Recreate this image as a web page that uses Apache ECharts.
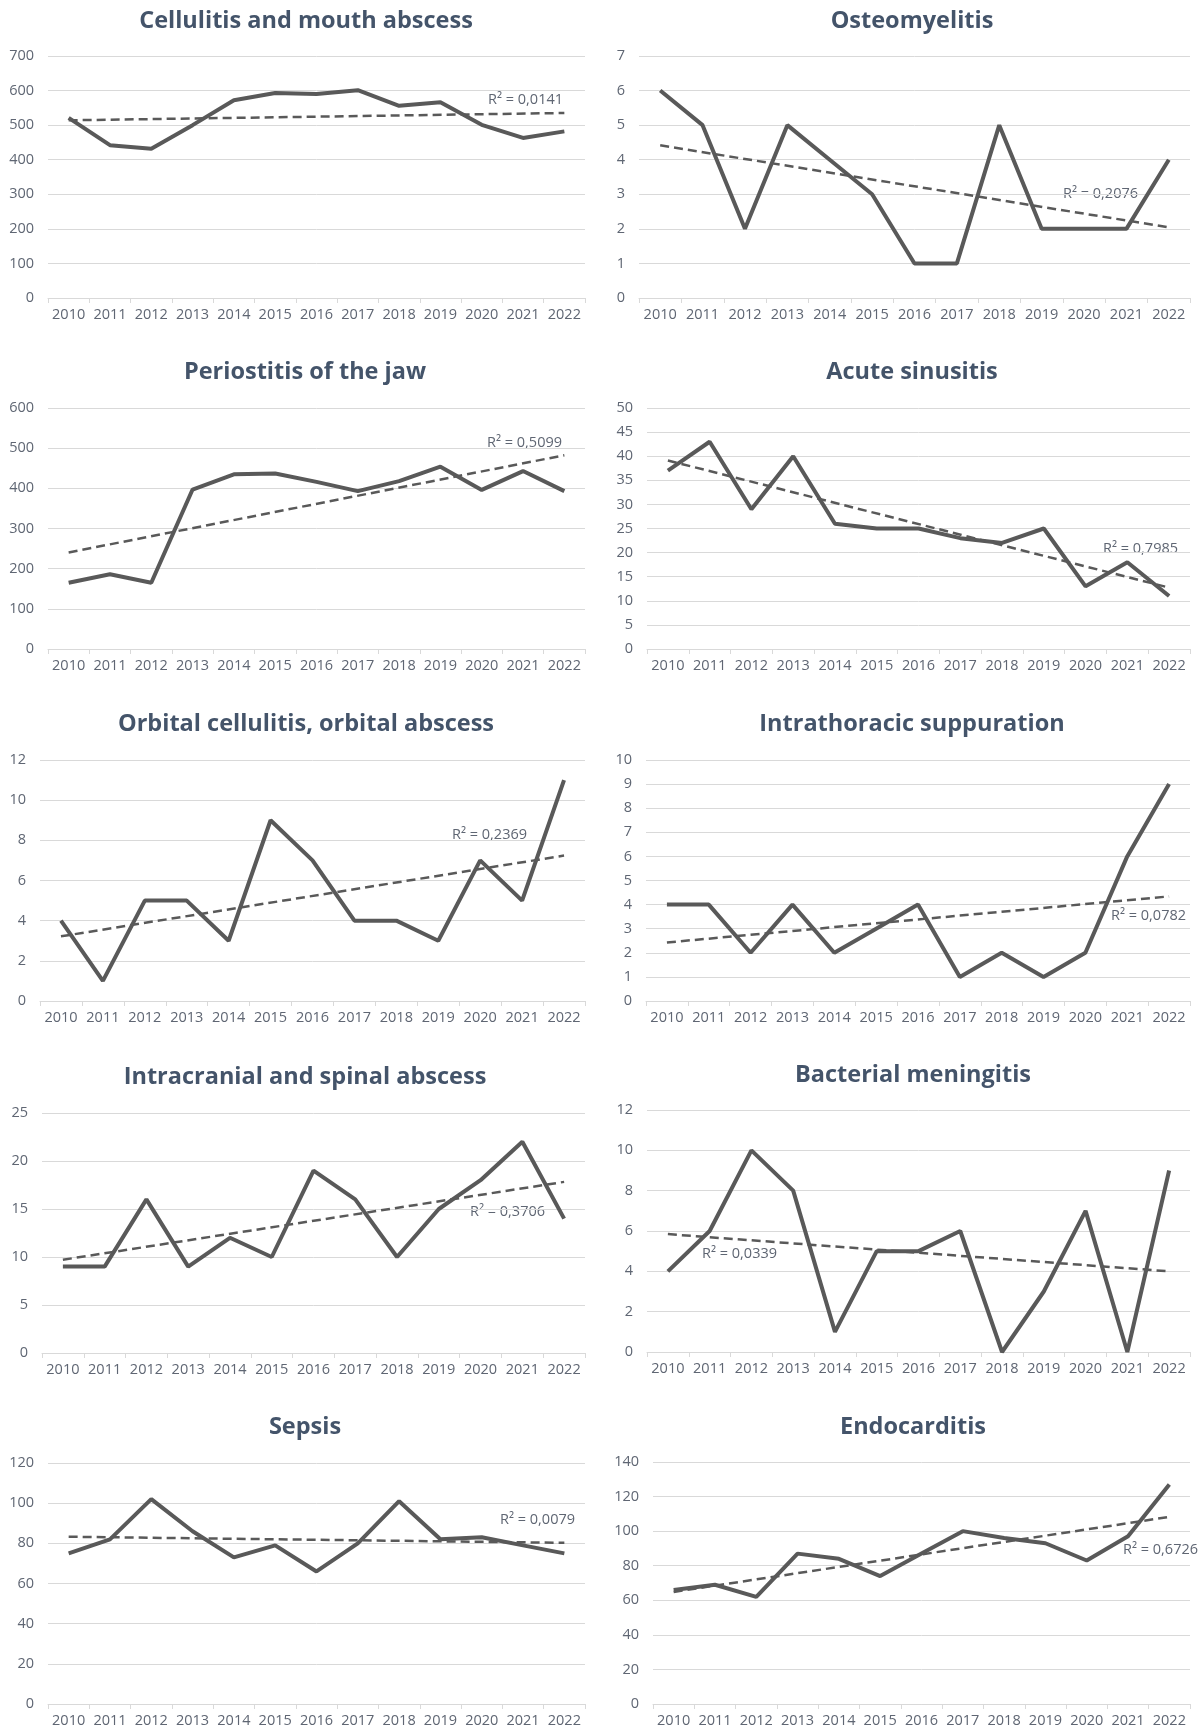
<!DOCTYPE html>
<html>
<head>
<meta charset="utf-8">
<script src="https://cdn.jsdelivr.net/npm/echarts@6/dist/echarts.min.js"></script>
<style>
html,body{margin:0;padding:0;background:#fff;}
#chart{width:1200px;height:1734px;}
</style>
</head>
<body>
<div id="chart"></div>
<script>
// ---------- DATA ----------
var years = ['2010','2011','2012','2013','2014','2015','2016','2017','2018','2019','2020','2021','2022'];

var titles = [
  'Cellulitis and mouth abscess', 'Osteomyelitis',
  'Periostitis of the jaw', 'Acute sinusitis',
  'Orbital cellulitis, orbital abscess', 'Intrathoracic suppuration',
  'Intracranial and spinal abscess', 'Bacterial meningitis',
  'Sepsis', 'Endocarditis'
];

var cellulitis   = [521, 442, 432, 500, 572, 593, 590, 601, 556, 566, 501, 463, 482];
var osteomyelitis= [6, 5, 2, 5, 4, 3, 1, 1, 5, 2, 2, 2, 4];
var periostitis  = [165, 186, 165, 397, 435, 437, 416, 393, 418, 454, 396, 443, 393];
var sinusitis    = [37, 43, 29, 40, 26, 25, 25, 23, 22, 25, 13, 18, 11];
var orbital      = [4, 1, 5, 5, 3, 9, 7, 4, 4, 3, 7, 5, 11];
var intrathoracic= [4, 4, 2, 4, 2, 3, 4, 1, 2, 1, 2, 6, 9];
var intracranial = [9, 9, 16, 9, 12, 10, 19, 16, 10, 15, 18, 22, 14];
var meningitis   = [4, 6, 10, 8, 1, 5, 5, 6, 0, 3, 7, 0, 9];
var sepsis       = [75, 82, 102, 86, 73, 79, 66, 80, 101, 82, 83, 79, 75];
var endocarditis = [66, 69, 62, 87, 84, 74, 87, 100, 96, 93, 83, 97, 127];

var r2Labels = ['R² = 0,0141','R² = 0,2076','R² = 0,5099','R² = 0,7985','R² = 0,2369',
                'R² = 0,0782','R² = 0,3706','R² = 0,0339','R² = 0,0079','R² = 0,6726'];

var yMax      = [700, 7, 600, 50, 12, 10, 25, 12, 120, 140];
var yInterval = [100, 1, 100, 5, 2, 1, 5, 2, 20, 20];

var seriesData = [cellulitis, osteomyelitis, periostitis, sinusitis, orbital,
                  intrathoracic, intracranial, meningitis, sepsis, endocarditis];

// ---------- LAYOUT (pixels) ----------
var grids = [
  {left: 48,  top: 56,   width: 537, height: 242},
  {left: 639, top: 56,   width: 551, height: 242},
  {left: 48,  top: 408,  width: 537, height: 241},
  {left: 647, top: 408,  width: 543, height: 241},
  {left: 40,  top: 760,  width: 545, height: 241},
  {left: 646, top: 760,  width: 544, height: 241},
  {left: 42,  top: 1113, width: 543, height: 240},
  {left: 647, top: 1110, width: 543, height: 242},
  {left: 48,  top: 1463, width: 537, height: 241},
  {left: 653, top: 1462, width: 537, height: 242}
];
var titlePos = [[301,19],[907,19],[300,370],[907,370],[301,722],[907,722],[300,1075],[908,1073],[300,1425],[908,1425]];
var r2Pos = [[525,102],[1100,196],[524,445],[1140,551],[489,837],[1148,918],[507,1214],[739,1256],[537,1522],[1160,1552]];

var FONT = '"Open Sans", "Noto Sans", sans-serif';
var LINE = '#595959';
var TEXT = '#5f6673';
var GRID = '#d9d9d9';

function trend(vals) {
  var n = vals.length, sx = 0, sy = 0, sxx = 0, sxy = 0;
  for (var i = 0; i < n; i++) { sx += i; sy += vals[i]; sxx += i * i; sxy += i * vals[i]; }
  var b = (n * sxy - sx * sy) / (n * sxx - sx * sx);
  var a = (sy - b * sx) / n;
  return [[years[0], a], [years[n - 1], a + b * (n - 1)]];
}

var option = {
  backgroundColor: '#fff',
  animation: false,
  title: [], grid: [], xAxis: [], yAxis: [], series: [], graphic: []
};

for (var k = 0; k < 10; k++) {
  option.title.push({
    text: titles[k], left: titlePos[k][0], top: titlePos[k][1] - 15, textAlign: 'center',
    textStyle: {fontFamily: FONT, fontSize: 23.5, fontWeight: 'bold', color: '#44546A'}
  });
  option.grid.push(Object.assign({containLabel: false}, grids[k]));
  option.xAxis.push({
    type: 'category', gridIndex: k, data: years, boundaryGap: true,
    axisLine: {show: true, lineStyle: {color: GRID, width: 1}},
    axisTick: {show: true, length: 5, lineStyle: {color: GRID}},
    axisLabel: {color: TEXT, fontFamily: FONT, fontSize: 14.5, margin: 9, interval: 0},
    splitLine: {show: false}
  });
  option.yAxis.push({
    type: 'value', gridIndex: k, min: 0, max: yMax[k], interval: yInterval[k],
    axisLine: {show: false}, axisTick: {show: false},
    axisLabel: {color: TEXT, fontFamily: FONT, fontSize: 14.5, margin: 14},
    splitLine: {show: true, lineStyle: {color: GRID, width: 1}}
  });
  option.series.push({
    type: 'line', xAxisIndex: k, yAxisIndex: k, data: seriesData[k],
    symbol: 'none', lineStyle: {color: LINE, width: 4}, z: 3
  });
  option.series.push({
    type: 'line', xAxisIndex: k, yAxisIndex: k, data: trend(seriesData[k]),
    symbol: 'none', lineStyle: {color: LINE, width: 2.5, type: [9, 5]}, z: 4
  });
  option.graphic.push({
    type: 'text', left: r2Pos[k][0] - 37, top: r2Pos[k][1] - 10,
    style: {text: r2Labels[k], fill: TEXT, font: '14.5px ' + FONT}
  });
}

var chart = echarts.init(document.getElementById('chart'), null, {renderer: 'canvas'});
chart.setOption(option);
</script>
</body>
</html>
